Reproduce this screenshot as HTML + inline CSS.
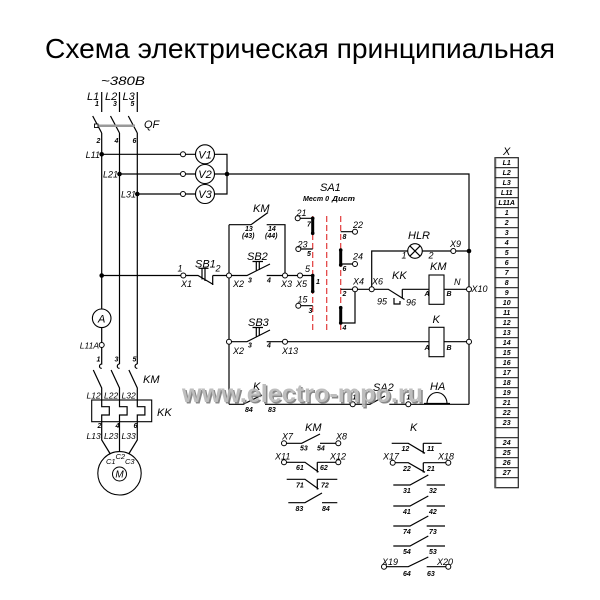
<!DOCTYPE html>
<html><head><meta charset="utf-8">
<style>
html,body{margin:0;padding:0;background:#fff;}
svg{display:block}
text{font-family:"Liberation Sans","DejaVu Sans",sans-serif;font-style:italic;fill:#000}
.n{font-size:7px;font-weight:bold}
.m{font-size:9px}
.l{font-size:11px}
.w{stroke:#000;stroke-width:1.2;fill:none}
.tm{fill:#fff;stroke:#000;stroke-width:1}
.b{stroke:#000;stroke-width:3;stroke-linecap:butt}
.r{stroke:#e23a3a;stroke-width:1.2;stroke-dasharray:6 3}
.tb{stroke:#222;stroke-width:1.2}
</style></head><body>
<svg width="600" height="600" viewBox="0 0 600 600" xmlns="http://www.w3.org/2000/svg">
<rect width="600" height="600" fill="#fff"/>
<text x="300" y="58" text-anchor="middle" style="font-style:normal;font-size:28px" textLength="510" lengthAdjust="spacingAndGlyphs">Схема электрическая принципиальная</text>

<!-- ========== POWER SECTION ========== -->
<text x="101" y="85" style="font-size:12px" textLength="44" lengthAdjust="spacingAndGlyphs">~380B</text>
<text x="87" y="100" class="l">L1</text>
<text x="105" y="100" class="l">L2</text>
<text x="122.5" y="100" class="l">L3</text>
<text x="95" y="106" class="n">1</text>
<text x="113" y="106" class="n">3</text>
<text x="130.5" y="106" class="n">5</text>
<text x="144" y="128" class="l">QF</text>
<text x="96.5" y="143" class="n">2</text>
<text x="114.5" y="143" class="n">4</text>
<text x="132.5" y="143" class="n">6</text>

<path class="w" d="M101.7 92V112 M119.5 92V112 M137.3 92V112
M92.7 116L101.7 133 M110.5 116L119.5 133 M128.3 116L137.3 133
M101.7 133V308.9 M101.7 327.7V342.5 M119.5 133V364 M137.3 133V364"/>
<line x1="97" y1="125.7" x2="135" y2="125.7" stroke="#999" stroke-width="2.5"/>
<rect x="94.5" y="124" width="3.5" height="3.5" fill="#fff" stroke="#000" stroke-width="0.9"/>

<text x="100" y="158" class="m" text-anchor="end">L11</text>
<text x="118" y="177.5" class="m" text-anchor="end">L21</text>
<text x="136" y="197.5" class="m" text-anchor="end">L31</text>

<!-- voltmeters -->
<path class="w" d="M101.7 154.3H180.5 M185.5 154.3H195.5 M214.5 154.3H227V194H214.5 M185.5 194H195.5 M137.3 194H180.5
M119.5 174H180.5 M185.5 174H195.5 M214.5 174H469V404.3"/>
<circle class="tm" cx="183" cy="154.3" r="2.5"/>
<circle class="tm" cx="183" cy="174" r="2.5"/>
<circle class="tm" cx="183" cy="194" r="2.5"/>
<circle cx="205" cy="154.3" r="9.5" fill="#fff" stroke="#000" stroke-width="1.1"/>
<circle cx="205" cy="174" r="9.5" fill="#fff" stroke="#000" stroke-width="1.1"/>
<circle cx="205" cy="194" r="9.5" fill="#fff" stroke="#000" stroke-width="1.1"/>
<text x="205" y="158.3" class="l" text-anchor="middle">V1</text>
<text x="205" y="178" class="l" text-anchor="middle">V2</text>
<text x="205" y="198" class="l" text-anchor="middle">V3</text>

<!-- ammeter -->
<circle cx="101.7" cy="318.3" r="9.3" fill="#fff" stroke="#000" stroke-width="1.1"/>
<text x="101.7" y="322.3" class="l" text-anchor="middle">A</text>
<circle class="tm" cx="101.7" cy="345" r="2.5"/>
<text x="99" y="348.5" style="font-size:8.5px" text-anchor="end">L11A</text>

<!-- KM main contacts -->
<text x="96.5" y="361.5" class="n">1</text>
<text x="114.5" y="361.5" class="n">3</text>
<text x="132.5" y="361.5" class="n">5</text>
<path class="w" d="M101.7 347.5V364 a2.2 2.2 0 0 0 0 4.4
M119.5 364 a2.2 2.2 0 0 0 0 4.4 M137.3 364 a2.2 2.2 0 0 0 0 4.4
M93.3 370L101.7 388V400 M111.1 370L119.5 388V400 M128.9 370L137.3 388V400"/>
<text x="143" y="383" class="l">KM</text>
<text x="86.5" y="398.5" style="font-size:8.5px">L12</text>
<text x="104" y="398.5" style="font-size:8.5px">L22</text>
<text x="121.5" y="398.5" style="font-size:8.5px">L32</text>
<rect x="91.7" y="400" width="60" height="21.7" fill="none" stroke="#000" stroke-width="1.1"/>
<path class="w" d="M101.7 400V406.7H109.3V415H101.7V421.7 M119.5 400V406.7H127.1V415H119.5V421.7 M137.3 400V406.7H144.9V415H137.3V421.7"/>
<text x="157" y="416" class="l">KK</text>
<text x="97.5" y="428" class="n">2</text>
<text x="115.5" y="428" class="n">4</text>
<text x="133.5" y="428" class="n">6</text>
<text x="86.5" y="439" style="font-size:8.5px">L13</text>
<text x="104" y="439" style="font-size:8.5px">L23</text>
<text x="121.5" y="439" style="font-size:8.5px">L33</text>
<path class="w" d="M101.7 421.7V440L110 453.5 M119.5 421.7V451.6 M137.3 421.7V440L129 453.5"/>
<circle cx="119.5" cy="473.3" r="21.7" fill="none" stroke="#000" stroke-width="1.1"/>
<circle cx="119.5" cy="474" r="7" fill="none" stroke="#000" stroke-width="1"/>
<text x="119.5" y="477.5" style="font-size:10px" text-anchor="middle">M</text>
<text x="106" y="464" style="font-size:7.5px">C1</text>
<text x="115.5" y="459" style="font-size:7.5px">C2</text>
<text x="125" y="464" style="font-size:7.5px">C3</text>

<!-- ========== CONTROL ========== -->
<path class="w" d="M101.7 275.5H180.8
M185.8 275.5H198L213.3 284.5 M212.7 275.5V285 M212.7 275.5H226.5
M198.5 268.3H208.5 M202 268.3V279.5 M205 268.3V281
M229 224.7V404.3
M229 224.7H251L268 212.5 M266.7 224.7H285V273
M231.5 275.5H247L270 264 M252.5 261.5H263 M256.3 261.5V271 M259.3 261.5V270
M266.7 275.5H282.5 M287.5 275.5H297.5 M302.5 275.5H312.7
M231.5 341.7H247L270 330 M252.5 327.5H263 M256.3 327.5V337 M259.3 327.5V336
M266.7 341.7H282.5 M287.5 341.7H429 M444 341.7H466.5
M229 404.3H243.3L262 395 M265 404.3H350.2 M355.2 404.3H370L385 396 M389.3 404.3H405.8 M410.8 404.3H469"/>
<circle cx="101.7" cy="275.5" r="2.3" fill="#000"/>
<circle class="tm" cx="183.3" cy="275.5" r="2.5"/>
<circle class="tm" cx="229" cy="275.5" r="2.5"/>
<circle class="tm" cx="285" cy="275.5" r="2.5"/>
<circle class="tm" cx="300" cy="275.5" r="2.5"/>
<circle class="tm" cx="229" cy="341.7" r="2.5"/>
<circle class="tm" cx="285" cy="341.7" r="2.5"/>
<circle class="tm" cx="469" cy="341.7" r="2.5"/>
<circle class="tm" cx="352.7" cy="404.3" r="2.5"/>
<circle class="tm" cx="408.3" cy="404.3" r="2.5"/>

<text x="177.5" y="271.5" class="m">1</text>
<text x="181" y="287" class="m">X1</text>
<text x="195" y="267.5" class="l">SB1</text>
<text x="215.5" y="271.5" class="m">2</text>
<text x="233" y="287" class="m">X2</text>
<text x="248" y="282.5" class="n">3</text>
<text x="247" y="260" class="l">SB2</text>
<text x="267" y="282.5" class="n">4</text>
<text x="281" y="287" class="m">X3</text>
<text x="296" y="287" class="m">X5</text>
<text x="253" y="212" class="l">KM</text>
<text x="245" y="231" class="n">13</text>
<text x="242" y="238" class="n">(43)</text>
<text x="268" y="231" class="n">14</text>
<text x="265" y="238" class="n">(44)</text>
<text x="248" y="326" class="l">SB3</text>
<text x="233" y="354" class="m">X2</text>
<text x="248" y="347.5" class="n">3</text>
<text x="267" y="347.5" class="n">4</text>
<text x="282" y="354" class="m">X13</text>

<!-- SA1 -->
<text x="320" y="191" class="l">SA1</text>
<text x="303" y="201" class="n" textLength="26" lengthAdjust="spacingAndGlyphs">Мест 0</text>
<text x="332" y="201" class="n" textLength="23" lengthAdjust="spacingAndGlyphs">Дист</text>
<path class="r" d="M312.7 216V330 M326.7 216V330 M340.7 216V330"/>
<path class="w" d="M300.2 218.3H312.7 M300.8 249H312.7 M300.8 305.7H312.7
M340.7 231.7H352.5 M340.7 264H352.5 M340.7 289.3H352.5 M340.7 323H355V291.8
M357.5 289.3H369.2 M371.7 286.8V251H407.7 M422.3 251H450.8 M455.8 251H469
M374.2 289.3H388.3L404.5 299.5 M402.3 289.3V298.5 M402.3 289.3H429 M394 298V304H400V301
M444 289.3H466.5"/>
<path class="b" d="M312.7 218.3V233.3 M312.7 275.5V291.5 M340.7 250V265 M340.7 307.7V323"/>
<circle cx="312.7" cy="218.3" r="1.8"/><circle cx="312.7" cy="233.3" r="1.8"/>
<circle cx="312.7" cy="275.5" r="1.8"/><circle cx="312.7" cy="291.5" r="1.8"/>
<circle cx="340.7" cy="250" r="1.8"/><circle cx="340.7" cy="265" r="1.8"/>
<circle cx="340.7" cy="307.7" r="1.8"/><circle cx="340.7" cy="323" r="1.8"/>
<circle class="tm" cx="297.7" cy="218.3" r="2.5"/>
<circle class="tm" cx="298.3" cy="249" r="2.5"/>
<circle class="tm" cx="298.3" cy="305.7" r="2.5"/>
<circle class="tm" cx="355" cy="231.7" r="2.5"/>
<circle class="tm" cx="355" cy="264" r="2.5"/>
<circle class="tm" cx="355" cy="289.3" r="2.5"/>
<circle class="tm" cx="371.7" cy="289.3" r="2.5"/>
<circle class="tm" cx="453.3" cy="251" r="2.5"/>
<circle class="tm" cx="469" cy="289.3" r="2.5"/>
<circle cx="469" cy="251" r="2.3" fill="#000"/>
<circle cx="227" cy="174" r="2.3" fill="#000"/>
<circle cx="101.7" cy="154.3" r="2.3" fill="#000"/>
<circle cx="119.5" cy="174" r="2.3" fill="#000"/>
<circle cx="137.3" cy="194" r="2.3" fill="#000"/>

<text x="296.5" y="216" class="m">21</text>
<text x="307" y="226.5" class="n">7</text>
<text x="297.5" y="247.5" class="m">23</text>
<text x="307" y="256" class="n">5</text>
<text x="305" y="272" class="m">5</text>
<text x="316" y="284" class="n">1</text>
<text x="297.5" y="302.5" class="m">15</text>
<text x="308.5" y="313" class="n">3</text>
<text x="353" y="228" class="m">22</text>
<text x="342.5" y="239" class="n">8</text>
<text x="353" y="259.5" class="m">24</text>
<text x="342.5" y="271" class="n">6</text>
<text x="353" y="284.5" class="m">X4</text>
<text x="342.5" y="296" class="n">2</text>
<text x="342.5" y="330" class="n">4</text>
<text x="372" y="284.5" class="m">X6</text>

<!-- lamp -->
<circle cx="415" cy="251" r="7.3" fill="#fff" stroke="#000" stroke-width="1.1"/>
<path class="w" d="M409.8 245.8L420.2 256.2 M420.2 245.8L409.8 256.2"/>
<text x="408" y="239" class="l">HLR</text>
<text x="401.5" y="258.5" class="m">1</text>
<text x="428.5" y="258.5" class="m">2</text>
<text x="450" y="247" class="m">X9</text>

<text x="392" y="279" class="l">KK</text>
<text x="377" y="304.5" class="m">95</text>
<text x="406" y="305.5" class="m">96</text>
<rect x="429" y="275" width="15" height="29.3" fill="#fff" stroke="#000" stroke-width="1.1"/>
<text x="430" y="270" class="l">KM</text>
<text x="424.5" y="296" class="n">A</text>
<text x="446.5" y="296" class="n">B</text>
<text x="454" y="285" class="m">N</text>
<text x="471.5" y="292" class="m">X10</text>
<rect x="429" y="327.3" width="15" height="29.4" fill="#fff" stroke="#000" stroke-width="1.1"/>
<text x="432.5" y="323" class="l">K</text>
<text x="424.5" y="350" class="n">A</text>
<text x="446.5" y="350" class="n">B</text>

<!-- HA bell -->
<path d="M427 403.5A10 11 0 0 1 447 403.5Z" fill="#fff" stroke="#000" stroke-width="1.1"/>
<line x1="424" y1="403.5" x2="450" y2="403.5" stroke="#000" stroke-width="1.2"/>
<text x="430" y="390" class="l">HA</text>
<text x="373" y="391" class="l">SA2</text>
<text x="352.5" y="399.5" class="n">1</text>
<text x="406.5" y="399.5" class="n">1</text>
<text x="253" y="390" class="l">K</text>
<text x="245" y="412" class="n">84</text>
<text x="268" y="412" class="n">83</text>

<!-- KM aux block -->
<text x="305" y="431" class="l">KM</text>
<path class="w" d="M286.5 443.3H301.7L320 434 M320 443.3H335.8
M286.5 462.3H305L318.5 472 M317.3 462.3V472.5 M317.3 462.3H335.8
M286.7 479.3H305L318.5 489 M317.3 479.3V489.5 M317.3 479.3H337.3
M288.3 502.7H305L322 493 M322 502.7H337.3"/>
<circle class="tm" cx="284" cy="443.3" r="2.5"/>
<circle class="tm" cx="338.3" cy="443.3" r="2.5"/>
<circle class="tm" cx="284" cy="462.3" r="2.5"/>
<circle class="tm" cx="338.3" cy="462.3" r="2.5"/>
<text x="282" y="439.5" class="m">X7</text>
<text x="336" y="439.5" class="m">X8</text>
<text x="300" y="450.5" class="n">53</text>
<text x="317" y="450.5" class="n">54</text>
<text x="275" y="459.5" class="m">X11</text>
<text x="330" y="459.5" class="m">X12</text>
<text x="296" y="470" class="n">61</text>
<text x="320" y="470" class="n">62</text>
<text x="296" y="487.5" class="n">71</text>
<text x="321" y="487.5" class="n">72</text>
<text x="295.5" y="511" class="n">83</text>
<text x="322" y="511" class="n">84</text>

<!-- K aux block -->
<text x="410" y="431" class="l">K</text>
<path class="w" d="M391.7 443.3H408.3L425 453.3 M423.3 443.3V453.5 M423.3 443.3H441.7
M395.2 462.7H408.3L425 472.3 M423.3 462.7V472.5 M423.3 462.7H445.8
M393.3 485H410L428.3 475 M426.7 485H445
M393.3 506H410L428.3 496 M426.7 506H445
M393.3 526H410L428.3 516 M426.7 526H445
M393.3 546H410L428.3 536 M426.7 546H445
M386.5 566.7H408.3L428.3 557 M426.7 566.7H445.8"/>
<circle class="tm" cx="392.7" cy="462.7" r="2.5"/>
<circle class="tm" cx="448.3" cy="462.7" r="2.5"/>
<circle class="tm" cx="384" cy="566.7" r="2.5"/>
<circle class="tm" cx="448.3" cy="566.7" r="2.5"/>
<text x="401.5" y="451" class="n">12</text>
<text x="427" y="451" class="n">11</text>
<text x="383" y="459.5" class="m">X17</text>
<text x="438" y="459.5" class="m">X18</text>
<text x="403" y="471" class="n">22</text>
<text x="427" y="471" class="n">21</text>
<text x="403" y="493" class="n">31</text>
<text x="429" y="493" class="n">32</text>
<text x="403" y="514" class="n">41</text>
<text x="429" y="514" class="n">42</text>
<text x="403" y="534" class="n">74</text>
<text x="429" y="534" class="n">73</text>
<text x="403" y="554" class="n">54</text>
<text x="429" y="554" class="n">53</text>
<text x="382" y="565" class="m">X19</text>
<text x="437" y="565" class="m">X20</text>
<text x="403" y="576" class="n">64</text>
<text x="427" y="576" class="n">63</text>

<!-- Terminal table -->
<text x="506.7" y="155" class="l" text-anchor="middle">X</text>
<rect x="495" y="157.7" width="23.3" height="330" fill="none" stroke="#222" stroke-width="1.2"/>
<line x1="495.8" y1="157.7" x2="495.8" y2="487.7" stroke="#777" stroke-width="1"/>
<path class="tb" d="M495 167.7H518.3 M495 177.7H518.3 M495 187.7H518.3 M495 197.7H518.3 M495 207.7H518.3
M495 217.7H518.3 M495 227.7H518.3 M495 237.7H518.3 M495 247.7H518.3 M495 257.7H518.3
M495 267.7H518.3 M495 277.7H518.3 M495 287.7H518.3 M495 297.7H518.3 M495 307.7H518.3
M495 317.7H518.3 M495 327.7H518.3 M495 337.7H518.3 M495 347.7H518.3 M495 357.7H518.3
M495 367.7H518.3 M495 377.7H518.3 M495 387.7H518.3 M495 397.7H518.3 M495 407.7H518.3
M495 417.7H518.3 M495 427.7H518.3 M495 437.7H518.3 M495 447.7H518.3 M495 457.7H518.3
M495 467.7H518.3 M495 477.7H518.3"/>
<g class="n" text-anchor="middle" style="font-size:7px;font-weight:bold">
<text x="506.7" y="165.2">L1</text>
<text x="506.7" y="175.2">L2</text>
<text x="506.7" y="185.2">L3</text>
<text x="506.7" y="195.2">L11</text>
<text x="506.7" y="205.2">L11A</text>
<text x="506.7" y="215.2">1</text>
<text x="506.7" y="225.2">2</text>
<text x="506.7" y="235.2">3</text>
<text x="506.7" y="245.2">4</text>
<text x="506.7" y="255.2">5</text>
<text x="506.7" y="265.2">6</text>
<text x="506.7" y="275.2">7</text>
<text x="506.7" y="285.2">8</text>
<text x="506.7" y="295.2">9</text>
<text x="506.7" y="305.2">10</text>
<text x="506.7" y="315.2">11</text>
<text x="506.7" y="325.2">12</text>
<text x="506.7" y="335.2">13</text>
<text x="506.7" y="345.2">14</text>
<text x="506.7" y="355.2">15</text>
<text x="506.7" y="365.2">16</text>
<text x="506.7" y="375.2">17</text>
<text x="506.7" y="385.2">18</text>
<text x="506.7" y="395.2">19</text>
<text x="506.7" y="405.2">21</text>
<text x="506.7" y="415.2">22</text>
<text x="506.7" y="425.2">23</text>
<text x="506.7" y="445.2">24</text>
<text x="506.7" y="455.2">25</text>
<text x="506.7" y="465.2">26</text>
<text x="506.7" y="475.2">27</text>
</g>

<!-- watermark -->
<g opacity="0.9" style="font-style:normal;font-weight:bold;font-size:25px">
<text x="183.5" y="403.5" fill="#7c7c7c" style="fill:#7c7c7c;font-style:normal" textLength="241" lengthAdjust="spacingAndGlyphs">www.electro-mpo.ru</text>
<text x="182" y="402" style="fill:#b8b8b8;font-style:normal" textLength="241" lengthAdjust="spacingAndGlyphs">www.electro-mpo.ru</text>
</g>
</svg>
</body></html>
